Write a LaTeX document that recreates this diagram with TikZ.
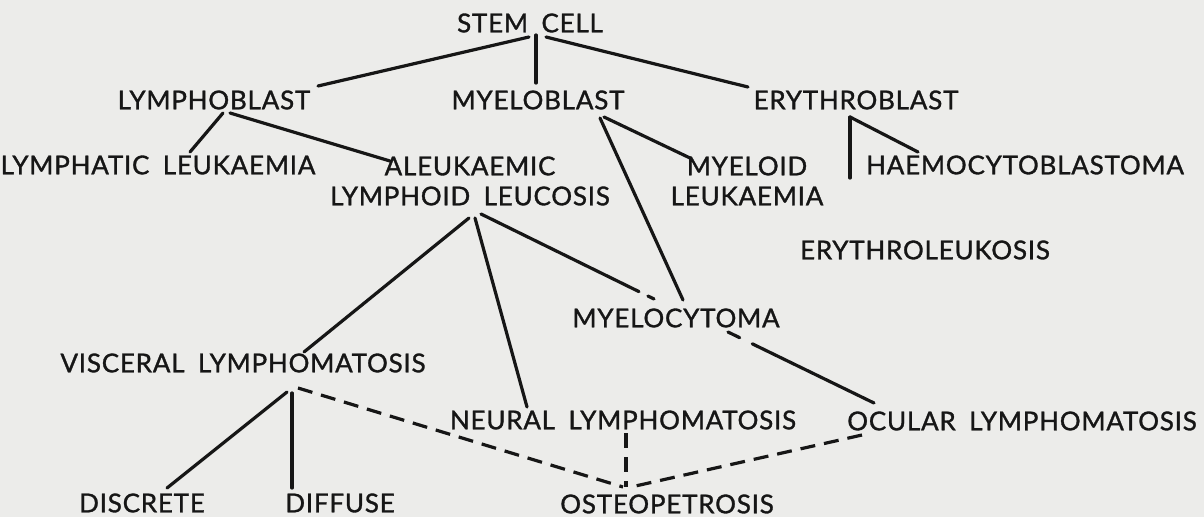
\documentclass[tikz,border=0pt]{standalone}
\usepackage{fontspec}
\setmainfont{Lato}[LetterSpace=3,WordSpace=1.8,FakeBold=1.2]
\usetikzlibrary{calc}
\definecolor{paper}{RGB}{236,236,234}
\definecolor{ink}{RGB}{22,22,22}
\tikzset{
  lab/.style={font=\fontsize{26}{30}\selectfont, text=ink, inner sep=0pt, align=center},
  link/.style={line width=3.2pt, draw=ink, line cap=round},
  dlink/.style={line width=3.2pt, draw=ink, dash pattern=on 15pt off 9pt}
}
\begin{document}
\begin{tikzpicture}[x=1pt,y=-1pt]
\fill[paper] (0,0) rectangle (1204,517);
\useasboundingbox (0,0) rectangle (1204,517);

\node[lab] (stem) at (530,23) {STEM CELL};
\node[lab] (lymphoblast) at (214,100) {LYMPHOBLAST};
\node[lab] (myeloblast) at (538,100) {MYELOBLAST};
\node[lab] (erythroblast) at (856,100) {ERYTHROBLAST};
\node[lab] (lymphatic) at (158,165) {LYMPHATIC LEUKAEMIA};
\node[lab] (aleuk) at (470,181) {ALEUKAEMIC\\LYMPHOID LEUCOSIS};
\node[lab] (myeloid) at (747,181) {MYELOID\\LEUKAEMIA};
\node[lab] (haemo) at (1025,165) {HAEMOCYTOBLASTOMA};
\node[lab] (erythroleuk) at (925,250) {ERYTHROLEUKOSIS};
\node[lab] (myelocytoma) at (676,318) {MYELOCYTOMA};
\node[lab] (visceral) at (243,363) {VISCERAL LYMPHOMATOSIS};
\node[lab] (neural) at (623,420) {NEURAL LYMPHOMATOSIS};
\node[lab] (ocular) at (1022,421) {OCULAR LYMPHOMATOSIS};
\node[lab] (discrete) at (142,503) {DISCRETE};
\node[lab] (diffuse) at (340,503) {DIFFUSE};
\node[lab] (osteo) at (667,504) {OSTEOPETROSIS};
\coordinate (erystub) at (850,178);

\draw[link] ($(stem)+(-1,14)$) -- ($(lymphoblast)+(104,-14)$);
\draw[link] ($(stem)+(6,12)$) -- ($(myeloblast)+(-2,-17)$);
\draw[link] ($(stem)+(16,14)$) -- ($(erythroblast)+(-108,-13)$);
\draw[link] ($(lymphoblast)+(9,13)$) -- ($(lymphatic)+(32,-13)$);
\draw[link] ($(lymphoblast)+(16,13)$) -- ($(aleuk)+(-80,-20)$);
\draw[link] ($(myeloblast)+(66,17)$) -- ($(myeloid)+(-57,-23)$);
\draw[link] ($(myeloblast)+(62,18)$) -- ($(myelocytoma)+(7,-18)$);
\draw[link] ($(erythroblast)+(-6,17)$) -- ($(haemo)+(-107,-13)$);
\draw[link] ($(erythroblast)+(-6,17)$) -- (erystub);
\draw[link] ($(aleuk)+(-1,37)$) -- ($(visceral)+(61,-11)$);
\draw[link] ($(aleuk)+(5,37)$) -- ($(neural)+(-96,-13)$);
\draw[link, dash pattern=on 176pt off 10pt on 30pt] ($(aleuk)+(11,33)$) -- ($(myelocytoma)+(-22,-19)$);
\draw[link, dash pattern=on 13pt off 14pt on 200pt] ($(myelocytoma)+(52,14)$) -- ($(ocular)+(-148,-18)$);
\draw[link] ($(visceral)+(44,29)$) -- ($(discrete)+(25,-15)$);
\draw[link] ($(visceral)+(49,30)$) -- ($(diffuse)+(-48,-15)$);
\draw[dlink] ($(visceral)+(55,25)$) -- ($(osteo)+(-44,-17)$);
\draw[dlink] ($(neural)+(3,13)$) -- ($(osteo)+(-41,-17)$);
\draw[dlink] ($(ocular)+(-160,14)$) -- ($(osteo)+(-36,-17)$);
\end{tikzpicture}
\end{document}
